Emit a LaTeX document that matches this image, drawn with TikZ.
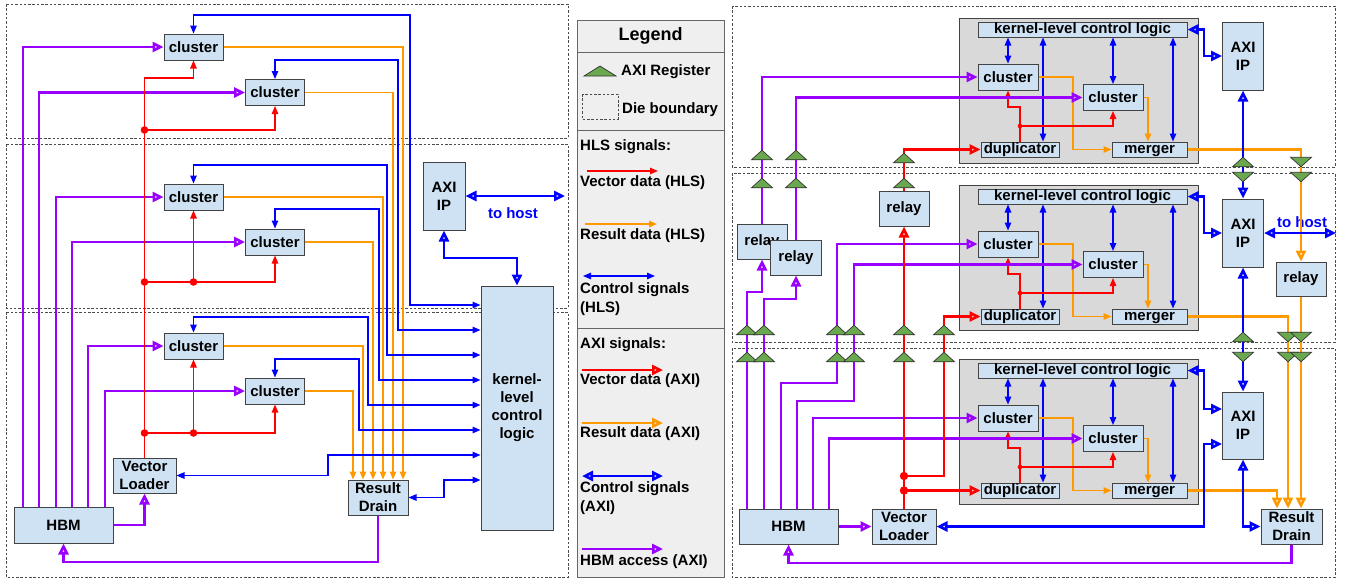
\documentclass[tikz,border=0pt]{standalone}
\usepackage{fontspec}
\setmainfont{Liberation Sans}
\usetikzlibrary{arrows.meta,calc}
\definecolor{vecR}{RGB}{255,0,0}
\definecolor{resO}{RGB}{255,153,0}
\definecolor{ctlB}{RGB}{0,0,255}
\definecolor{hbmP}{RGB}{153,0,255}
\definecolor{blkF}{RGB}{207,226,243}
\definecolor{blkD}{RGB}{67,67,67}
\definecolor{krnG}{RGB}{217,217,217}
\definecolor{legG}{RGB}{239,239,239}
\definecolor{regG}{RGB}{106,168,79}

\begin{document}
\begin{tikzpicture}[
  x=1pt, y=-1pt,
  blk/.style={rectangle, draw=blkD, fill=blkF, line width=1pt, inner sep=1pt,
    font=\bfseries\fontsize{15}{18}\selectfont},
  blk2/.style={blk, align=center},
  clus/.style={blk, minimum width=59pt, minimum height=26pt},
  klbar/.style={blk, inner sep=0pt, text height=10.8pt, text depth=3.1pt, minimum width=209pt, minimum height=15pt},
  slim/.style={klbar, minimum width=78pt},
  relay/.style={blk, minimum width=50pt, minimum height=35pt},
  ipbox/.style={blk2, minimum width=41pt, minimum height=68pt},
  krn/.style={rectangle, draw=blkD, fill=krnG, line width=1pt, minimum width=239pt, minimum height=145pt},
  die/.style={draw=black!70, line width=0.9pt, dash pattern=on 2.5pt off 1.8pt},
  vech/.style={draw=vecR, line width=1.3pt, -{Triangle[length=8pt,width=6.5pt]}},
  resh/.style={draw=resO, line width=1.3pt, -{Triangle[length=8pt,width=6.5pt]}},
  ctlh/.style={draw=ctlB, line width=1.3pt, {Triangle[length=8pt,width=6.5pt]}-{Triangle[length=8pt,width=6.5pt]}},
  veca/.style={draw=vecR, line width=2.6pt, -{Triangle[open,length=11pt,width=10pt]}},
  resa/.style={draw=resO, line width=2.6pt, -{Triangle[open,length=11pt,width=10pt]}},
  ctla/.style={draw=ctlB, line width=2.6pt, {Triangle[open,length=11pt,width=10pt]}-{Triangle[open,length=11pt,width=10pt]}},
  hbma/.style={draw=hbmP, line width=2.6pt, -{Triangle[open,length=11pt,width=10pt]}},
  hostlbl/.style={text=ctlB, font=\bfseries\fontsize{15}{18}\selectfont, inner sep=0pt},
  legtxt/.style={anchor=west, align=left, inner sep=1pt, font=\bfseries\fontsize{15}{19}\selectfont},
  regup/.pic={\filldraw[fill=regG, draw=black!80, line width=0.7pt] (-10.5,4.75) -- (10.5,4.75) -- (0,-4.75) -- cycle;},
  regdn/.pic={\filldraw[fill=regG, draw=black!80, line width=0.7pt] (-10.5,-4.75) -- (10.5,-4.75) -- (0,4.75) -- cycle;}]

  \useasboundingbox (0,0) rectangle (1347,582);

  % ---------- left: HLS design ----------
  \draw[die] (6,4) rectangle (568,138);
  \draw[die] (6,144) rectangle (568,308);
  \draw[die] (6,312) rectangle (568,577);

  \node[clus] (cl1) at (193.5,47) {cluster};
  \node[clus] (cl2) at (275,92.5) {cluster};
  \node[clus] (cl3) at (193.5,197) {cluster};
  \node[clus] (cl4) at (275,242) {cluster};
  \node[clus] (cl5) at (193.5,346) {cluster};
  \node[clus] (cl6) at (275,391) {cluster};
  \node[blk2, minimum width=63pt, minimum height=35pt] (vl) at (144.5,475.5) {Vector\\Loader};
  \node[blk, minimum width=99pt, minimum height=36pt] (hbm) at (63.5,525) {HBM};
  \node[blk2, minimum width=60pt, minimum height=35pt] (rd) at (378,497.5) {Result\\Drain};
  \node[blk2, minimum width=72pt, minimum height=244pt] (kern) at (517,408) {kernel-\\level\\control\\logic};
  \node[ipbox, minimum width=42pt] (axi) at (444,196) {AXI\\IP};
  \coordinate (hostL) at (565,196);
  \node[hostlbl] (hostLt) at (513,213) {to host};

  % HBM access
  \draw[hbma] (hbm.north -| 23,0) |- (cl1.west);
  \draw[hbma] (hbm.north -| 39,0) |- (cl2.west);
  \draw[hbma] (hbm.north -| 56,0) |- (cl3.west);
  \draw[hbma] (hbm.north -| 72,0) |- (cl4.west);
  \draw[hbma] (hbm.north -| 88,0) |- (cl5.west);
  \draw[hbma] (hbm.north -| 105,0) |- (cl6.west);
  \draw[hbma] (hbm.east) -| (vl.south);
  \draw[hbma] (rd.south) -- (rd.south |- 0,562) -| (hbm.south);

  % vector data, fanned out from the loader
  \coordinate (va) at (vl.north |- 0,130);
  \coordinate (vb) at (vl.north |- 0,282);
  \coordinate (vc) at (cl3.south |- 0,282);
  \coordinate (vd) at (vl.north |- 0,433);
  \coordinate (ve) at (cl5.south |- 0,433);
  \draw[vech] (vl.north) -- (vl.north |- 0,78) -| (cl1.south);
  \draw[vech] (va) -| (cl2.south);
  \draw[vech] (vb) -| (cl4.south);
  \draw[vech] (vc) -- (cl3.south);
  \draw[vech] (vd) -| (cl6.south);
  \draw[vech] (ve) -- (cl5.south);
  \foreach \d in {va,vb,vc,vd,ve} \fill[vecR] (\d) circle[radius=3.8pt];

  % results to the drain
  \draw[resh] (cl1.east) -| (rd.north -| 403,0);
  \draw[resh] (cl2.east) -| (rd.north -| 393,0);
  \draw[resh] (cl3.east) -| (rd.north -| 383,0);
  \draw[resh] (cl4.east) -| (rd.north -| 373,0);
  \draw[resh] (cl5.east) -| (rd.north -| 363,0);
  \draw[resh] (cl6.east) -| (rd.north -| 353,0);

  % control signals
  \draw[ctlh] (cl1.north) |- (410,15) |- (kern.west |- 0,305);
  \draw[ctlh] (cl2.north) |- (398,60) |- (kern.west |- 0,330);
  \draw[ctlh] (cl3.north) |- (387,165) |- (kern.west |- 0,355);
  \draw[ctlh] (cl4.north) |- (379,209) |- (kern.west |- 0,380);
  \draw[ctlh] (cl5.north) |- (368,317) |- (kern.west |- 0,405);
  \draw[ctlh] (cl6.north) |- (359,359) |- (kern.west |- 0,430);
  \draw[ctlh] (vl.east) -| (328,455) -- (kern.west |- 0,455);
  \draw[ctlh] (rd.east) -| (444,480) -- (kern.west |- 0,480);
  \draw[ctla] (axi.south) -- (axi.south |- 0,258) -| (kern.north);
  \draw[ctla] (axi.east) -- (hostL);

  % ---------- legend ----------
  \node[rectangle, draw=black!60, fill=legG, line width=1pt, minimum width=147pt, minimum height=557pt] (leg) at (650.5,298.5) {};
  \draw[black!60, line width=1pt] (leg.west |- 0,52) -- (leg.east |- 0,52);
  \draw[black!60, line width=1pt] (leg.west |- 0,130) -- (leg.east |- 0,130);
  \draw[black!60, line width=1pt] (leg.west |- 0,328) -- (leg.east |- 0,328);
  \node[font=\bfseries\fontsize{18}{20}\selectfont] (legt) at (650.5,36) {Legend};
  \filldraw[fill=regG, draw=black!80, line width=0.7pt] (584,76) -- (616,76) -- (600,66) -- cycle;
  \node[legtxt] (lreg) at (620,72) {AXI Register};
  \draw[die] (582,94) rectangle (618,119);
  \node[legtxt] (ldie) at (621,110) {Die boundary};
  \node[legtxt] (lhls) at (579,147) {HLS signals:};
  \draw[vech] (587,171) -- (658,171);
  \node[legtxt] (lvh) at (579,183) {Vector data (HLS)};
  \draw[resh] (585,224) -- (657,224);
  \node[legtxt] (lrh) at (579,236) {Result data (HLS)};
  \draw[ctlh] (583,276) -- (655,276);
  \node[legtxt] (lch) at (579,299.5) {Control signals\\(HLS)};
  \node[legtxt] (laxi) at (579,345) {AXI signals:};
  \draw[veca] (582,370) -- (663,370);
  \node[legtxt] (lva) at (579,381) {Vector data (AXI)};
  \draw[resa] (582,423) -- (663,423);
  \node[legtxt] (lra) at (579,434) {Result data (AXI)};
  \draw[ctla] (582,476) -- (663,476);
  \node[legtxt] (lca) at (579,498) {Control signals\\(AXI)};
  \draw[hbma] (582,549) -- (663,549);
  \node[legtxt] (lha) at (579,562) {HBM access (AXI)};

  % ---------- right: AXI design over three dies ----------
  \draw[die] (732,6) rectangle (1335,167);
  \draw[die] (732,173) rectangle (1335,342);
  \draw[die] (732,348) rectangle (1335,577);

  % die 1
  \node[krn] (gra) at (1078.5,90.5) {};
  \node[klbar] (kla) at (1082.5,29.5) {kernel-level control logic};
  \node[clus, minimum width=60pt] (c1a) at (1008,77) {cluster};
  \node[clus, minimum width=60pt] (c2a) at (1113,97.5) {cluster};
  \node[slim] (dpa) at (1020,149.5) {duplicator};
  \node[slim, minimum width=75pt] (mga) at (1149.5,149.5) {merger};
  \node[ipbox] (ipa) at (1243,56) {AXI\\IP};
  % die 2
  \node[krn] (grb) at (1078.5,257.5) {};
  \node[klbar] (klb) at (1082.5,196.5) {kernel-level control logic};
  \node[clus, minimum width=60pt] (c1b) at (1008,244) {cluster};
  \node[clus, minimum width=60pt] (c2b) at (1113,264.5) {cluster};
  \node[slim] (dpb) at (1020,316.5) {duplicator};
  \node[slim, minimum width=75pt] (mgb) at (1149.5,316.5) {merger};
  \node[ipbox] (ipb) at (1243,233) {AXI\\IP};
  \coordinate (hostR) at (1336,233);
  \node[hostlbl] (hostRt) at (1302,222) {to host};
  % die 3
  \node[krn] (grc) at (1078.5,431.5) {};
  \node[klbar] (klc) at (1082.5,370.5) {kernel-level control logic};
  \node[clus, minimum width=60pt] (c1c) at (1008,418) {cluster};
  \node[clus, minimum width=60pt] (c2c) at (1113,438.5) {cluster};
  \node[slim] (dpc) at (1020,490.5) {duplicator};
  \node[slim, minimum width=75pt] (mgc) at (1149.5,490.5) {merger};
  \node[ipbox, minimum height=67pt] (ipc) at (1243,425.5) {AXI\\IP};

  % relays, memory, loader, drain
  \node[relay] (relA) at (762,241.5) {relay};
  \node[relay, minimum width=51pt] (relB) at (796,257.5) {relay};
  \node[relay] (relC) at (904,208.5) {relay};
  \node[relay, minimum height=34pt] (relD) at (1301,279) {relay};
  \node[blk, minimum width=99pt, minimum height=35pt] (hbmR) at (788.5,526.5) {HBM};
  \node[blk2, minimum width=64pt, minimum height=35pt] (vlR) at (904,526.5) {Vector\\Loader};
  \node[blk2, minimum width=61pt, minimum height=35pt] (rdR) at (1291.5,526.5) {Result\\Drain};

  % inside each die
  \coordinate (dta) at (1020,126);
  \coordinate (dtb) at (1020,293);
  \coordinate (dtc) at (1020,467);
  \draw[ctlh] (kla.south -| c1a.north) -- (c1a.north);
  \draw[ctlh] (kla.south -| 1043,0) -- (dpa.north -| 1043,0);
  \draw[ctlh] (kla.south -| c2a.north) -- (c2a.north);
  \draw[ctlh] (kla.south -| 1173,0) -- (mga.north -| 1173,0);
  \draw[resh] (c1a.east) -| (mga.west -| 1073,0) -- (mga.west);
  \draw[resh] (c2a.east) -| (mga.north -| 1148,0);
  \draw[vech] (dpa.north) -- (dpa.north |- 0,107) -| (c1a.south);
  \draw[vech] (dta) -| (c2a.south);

  \draw[ctlh] (klb.south -| c1b.north) -- (c1b.north);
  \draw[ctlh] (klb.south -| 1043,0) -- (dpb.north -| 1043,0);
  \draw[ctlh] (klb.south -| c2b.north) -- (c2b.north);
  \draw[ctlh] (klb.south -| 1173,0) -- (mgb.north -| 1173,0);
  \draw[resh] (c1b.east) -| (mgb.west -| 1073,0) -- (mgb.west);
  \draw[resh] (c2b.east) -| (mgb.north -| 1148,0);
  \draw[vech] (dpb.north) -- (dpb.north |- 0,274) -| (c1b.south);
  \draw[vech] (dtb) -| (c2b.south);

  \draw[ctlh] (klc.south -| c1c.north) -- (c1c.north);
  \draw[ctlh] (klc.south -| 1043,0) -- (dpc.north -| 1043,0);
  \draw[ctlh] (klc.south -| c2c.north) -- (c2c.north);
  \draw[ctlh] (klc.south -| 1173,0) -- (mgc.north -| 1173,0);
  \draw[resh] (c1c.east) -| (mgc.west -| 1073,0) -- (mgc.west);
  \draw[resh] (c2c.east) -| (mgc.north -| 1148,0);
  \draw[vech] (dpc.north) -- (dpc.north |- 0,448) -| (c1c.south);
  \draw[vech] (dtc) -| (c2c.south);
  \foreach \d in {dta,dtb,dtc} \fill[vecR] (\d) circle[radius=2.3pt];

  % HBM access across dies
  \draw[hbma] (hbmR.north -| 747,0) -- (747,292) -| (relA.south);
  \draw[hbma] (hbmR.north -| 764,0) -- (764,299) -| (relB.south);
  \draw[hbma] (relA.north) |- (c1a.west);
  \draw[hbma] (relB.north) |- (c2a.west);
  \draw[hbma] (hbmR.north -| 781,0) |- (837,383) |- (c1b.west);
  \draw[hbma] (hbmR.north -| 797,0) |- (854,401) |- (c2b.west);
  \draw[hbma] (hbmR.north -| 813,0) |- (c1c.west);
  \draw[hbma] (hbmR.north -| 829,0) |- (c2c.west);
  \draw[hbma] (hbmR.east) -- (vlR.west);
  \draw[hbma] (rdR.south) -- (rdR.south |- 0,563) -| (hbmR.south);

  % vector data across dies
  \coordinate (rv1) at (vlR.north |- 0,476);
  \coordinate (rv2) at (vlR.north |- dpc.west);
  \draw[veca] (vlR.north) -- (relC.south);
  \draw[veca] (relC.north) |- (dpa.west);
  \draw[veca] (rv1) -- (944,476) |- (dpb.west);
  \draw[veca] (rv2) -- (dpc.west);
  \fill[vecR] (rv1) circle[radius=4.2pt];
  \fill[vecR] (rv2) circle[radius=4.2pt];

  % results across dies
  \draw[resa] (mga.east) -| (relD.north);
  \draw[resa] (relD.south) -- (rdR.north -| relD.south);
  \draw[resa] (mgb.east) -| (rdR.north -| 1288,0);
  \draw[resa] (mgc.east) -| (rdR.north -| 1277,0);

  % AXI control
  \draw[ctla] (kla.east) -- (kla.east -| 1204,0) |- (ipa.west);
  \draw[ctla] (klb.east) -- (klb.east -| 1204,0) |- (ipb.west);
  \draw[ctla] (klc.east) -- (klc.east -| 1204,0) |- (ipc.west |- 0,409);
  \draw[ctla] (vlR.east) -- (vlR.east -| 1204,0) |- (ipc.west |- 0,444);
  \draw[ctla] (ipa.south) -- (ipb.north);
  \draw[ctla] (ipb.south) -- (ipc.north);
  \draw[ctla] (ipc.south) |- (rdR.west);
  \draw[ctla] (ipb.east) -- (hostR);

  % AXI registers on die crossings
  \pic at (762,155) {regup}; \pic at (796,155) {regup}; \pic at (904,158) {regup};
  \pic at (762,183) {regup}; \pic at (796,183) {regup}; \pic at (904,183) {regup};
  \pic at (1243,162) {regup}; \pic at (1243,177) {regdn};
  \pic at (1301,162) {regdn}; \pic at (1301,177) {regdn};
  \pic at (747,330) {regup}; \pic at (764,330) {regup}; \pic at (837,330) {regup};
  \pic at (854,330) {regup}; \pic at (904,330) {regup}; \pic at (944,330) {regup};
  \pic at (747,357) {regup}; \pic at (764,357) {regup}; \pic at (837,357) {regup};
  \pic at (854,357) {regup}; \pic at (904,357) {regup}; \pic at (944,357) {regup};
  \pic at (1243,337) {regup}; \pic at (1243,357) {regdn};
  \pic at (1288,337) {regdn}; \pic at (1301,337) {regdn};
  \pic at (1288,357) {regdn}; \pic at (1301,357) {regdn};
\end{tikzpicture}
\end{document}
